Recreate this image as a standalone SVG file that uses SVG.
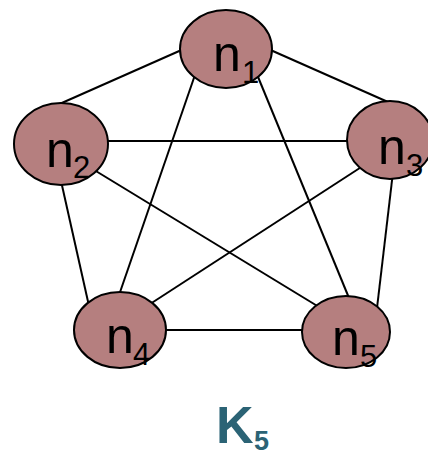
<svg xmlns="http://www.w3.org/2000/svg" width="428" height="456" viewBox="0 0 428 456">
<style>
.node ellipse{fill:#b57f7f;stroke:#000;stroke-width:2}
.lbl{font-family:"Liberation Sans",Arial,sans-serif;fill:#000}
.n{font-size:50px}
.s{font-size:31px}
#edges line{stroke:#000;stroke-width:2}
.title{font-family:"Liberation Sans",Arial,sans-serif;font-weight:bold;fill:#2b6375}
</style>
<rect width="428" height="456" fill="#fff"/>
<g id="edges">
<line x1="186" y1="48" x2="55" y2="106"/>
<line x1="266" y1="48" x2="397" y2="106"/>
<line x1="196" y1="72" x2="118" y2="298"/>
<line x1="256" y1="72" x2="349" y2="298"/>
<line x1="100" y1="141" x2="355" y2="141"/>
<line x1="59" y1="172" x2="89" y2="306"/>
<line x1="86" y1="165" x2="319" y2="307"/>
<line x1="366" y1="164" x2="147" y2="306"/>
<line x1="393" y1="172" x2="377" y2="308"/>
<line x1="160" y1="330" x2="310" y2="330"/>
</g>
<g id="n1" class="node"><ellipse cx="226" cy="49" rx="46" ry="39"/><text class="lbl n" x="213" y="71">n</text><text class="lbl s" x="242" y="83">1</text></g>
<g id="n2" class="node"><ellipse cx="61" cy="144" rx="47" ry="41"/><text class="lbl n" x="46" y="167">n</text><text class="lbl s" x="73" y="178">2</text></g>
<g id="n3" class="node"><ellipse cx="390" cy="140" rx="43" ry="39"/><text class="lbl n" x="378" y="164">n</text><text class="lbl s" x="406" y="176">3</text></g>
<g id="n4" class="node"><ellipse cx="120" cy="330" rx="46" ry="38"/><text class="lbl n" x="106" y="353">n</text><text class="lbl s" x="133" y="365">4</text></g>
<g id="n5" class="node"><ellipse cx="346" cy="332" rx="44" ry="36"/><text class="lbl n" x="332" y="355">n</text><text class="lbl s" x="360" y="367">5</text></g>
<text class="title" x="216" y="443" font-size="52">K</text>
<text class="title" x="254" y="450" font-size="27">5</text>
</svg>
